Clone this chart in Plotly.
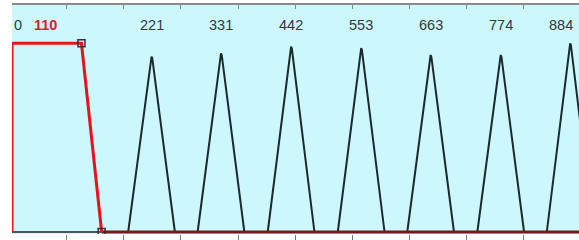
import plotly.graph_objects as go

# ---- data ----
tick_labels = ["0", "110", "221", "331", "442", "553", "663", "774", "884"]
peak_centers = [221, 331, 442, 553, 663, 774, 884]
peak_heights = [0.93, 0.947, 0.982, 0.974, 0.938, 0.938, 1.0]
peak_halfwidth = 37
band_start = 0
band_edge = 110
band_end = 142
band_level = 1.0

X_MAX = 898
BG = "#ccf8fd"

fig = go.Figure()

# peaks
px, py = [], []
for c, h in zip(peak_centers, peak_heights):
    px += [c - peak_halfwidth, c - 1.2, c, c + 1.2, c + peak_halfwidth, None]
    py += [0, h - 0.01, h, h - 0.01, 0, None]
fig.add_trace(go.Scatter(x=px, y=py, mode="lines",
                         line=dict(color="#1b2a2c", width=2), hoverinfo="skip"))

# baseline segments
fig.add_trace(go.Scatter(x=[band_start, band_end], y=[0, 0], mode="lines",
                         line=dict(color="#222222", width=1.6), hoverinfo="skip"))
fig.add_trace(go.Scatter(x=[band_end, X_MAX], y=[0, 0], mode="lines",
                         line=dict(color="#7a1717", width=3), hoverinfo="skip"))

# red band
fig.add_trace(go.Scatter(x=[band_start, band_start, band_edge, band_end],
                         y=[0, band_level, band_level, 0], mode="lines",
                         line=dict(color="#e8121c", width=3), hoverinfo="skip"))
fig.add_trace(go.Scatter(x=[band_edge, band_end], y=[band_level, 0], mode="markers",
                         marker=dict(symbol="square-open", size=7, color="#333333",
                                     line=dict(width=1.5)), hoverinfo="skip"))

# labels
label_pos = [10, 53] + peak_centers[:-1] + [870]
for i, (t, x) in enumerate(zip(tick_labels, label_pos)):
    red = (t == "110")
    fig.add_annotation(x=x, y=1.097, xref="x", yref="y", text=t, showarrow=False,
                       font=dict(family="Liberation Sans, Arial", size=14.5,
                                 color="#d8202c" if red else "#2f3a3c",
                                 weight="bold" if red else "normal"))

fig.update_layout(
    width=579, height=240,
    margin=dict(l=12, r=0, t=5, b=6, autoexpand=False),
    paper_bgcolor="white", plot_bgcolor=BG,
    showlegend=False,
    xaxis=dict(range=[0, X_MAX], showgrid=False, zeroline=False, showline=False,
               ticks="outside", ticklen=5, tickcolor="#777777", tick0=-4, dtick=90.5,
               showticklabels=False, fixedrange=True),
    xaxis2=dict(range=[0, X_MAX], overlaying="x", side="top", showgrid=False,
                zeroline=False, showline=True, linecolor="#8a8a8a", linewidth=2,
                ticks="inside", ticklen=4, tickcolor="#8a8a8a", tick0=-4, dtick=90.5,
                showticklabels=False, fixedrange=True),
    yaxis=dict(range=[-0.0106, 1.203], showgrid=False, zeroline=False,
               showticklabels=False, showline=False, fixedrange=True),
)
fig.add_trace(go.Scatter(x=[None], y=[None], xaxis="x2", hoverinfo="skip"))

fig.write_html("out.html", config={"displayModeBar": False},
               post_script="document.body.style.margin='0';document.body.style.overflow='hidden';")
